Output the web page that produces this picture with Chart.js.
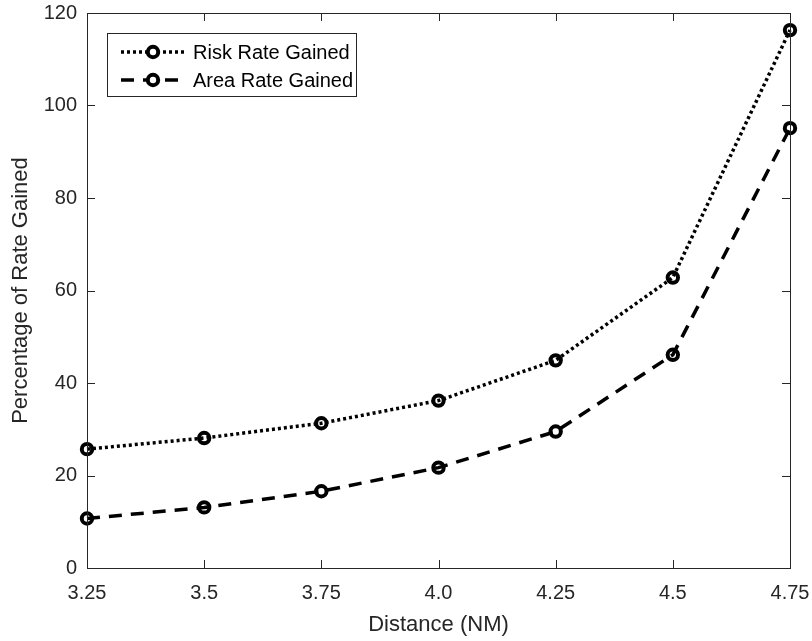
<!DOCTYPE html>
<html>
<head>
<meta charset="utf-8">
<script src="https://cdn.jsdelivr.net/npm/chart.js@4/dist/chart.umd.min.js"></script>
<style>
  html, body { margin: 0; padding: 0; background: #fff; }
  #wrap { width: 812px; height: 641px; }
</style>
</head>
<body>
<div id="wrap"><canvas id="chart" width="812" height="641"></canvas></div>
<script>
const distances = [3.25, 3.5, 3.75, 4.0, 4.25, 4.5, 4.75];
const xTickLabels = ["3.25", "3.5", "3.75", "4.0", "4.25", "4.5", "4.75"];
const riskRate = [25.7, 28.1, 31.3, 36.2, 44.9, 62.8, 116.3];
const areaRate = [10.7, 13.1, 16.6, 21.7, 29.5, 46.1, 95.1];
const seriesNames = ["Risk Rate Gained", "Area Rate Gained"];

const FONT = "'Liberation Sans', Arial, Helvetica, sans-serif";
const AXIS_COLOR = "#262626";

function toPoints(values) {
  return distances.map((d, i) => ({ x: d, y: values[i] }));
}

// MATLAB-style box with inward ticks on all four sides
const boxPlugin = {
  id: "box",
  afterDraw(chart) {
    const { ctx, chartArea: a, scales } = chart;
    ctx.save();
    ctx.strokeStyle = AXIS_COLOR;
    ctx.lineWidth = 1;
    ctx.strokeRect(a.left + 0.5, a.top + 0.5, a.right - a.left, a.bottom - a.top);
    const tl = 8;
    ctx.beginPath();
    distances.forEach((d) => {
      const x = Math.round(scales.x.getPixelForValue(d)) + 0.5;
      ctx.moveTo(x, a.bottom);
      ctx.lineTo(x, a.bottom - tl);
      ctx.moveTo(x, a.top);
      ctx.lineTo(x, a.top + tl);
    });
    scales.y.ticks.forEach((t) => {
      const y = Math.round(scales.y.getPixelForValue(t.value)) + 0.5;
      ctx.moveTo(a.left, y);
      ctx.lineTo(a.left + tl, y);
      ctx.moveTo(a.right, y);
      ctx.lineTo(a.right - tl, y);
    });
    ctx.stroke();
    ctx.restore();
  }
};

// legend drawn like MATLAB: line sample with marker in the middle
const legendPlugin = {
  id: "matlabLegend",
  afterDraw(chart) {
    const { ctx } = chart;
    const bx = 107, by = 33, bw = 249, bh = 63;
    ctx.save();
    ctx.fillStyle = "#fff";
    ctx.fillRect(bx, by, bw, bh);
    ctx.strokeStyle = AXIS_COLOR;
    ctx.lineWidth = 1;
    ctx.strokeRect(bx + 0.5, by + 0.5, bw, bh);
    chart.data.datasets.forEach((ds, i) => {
      const y = 52 + i * 28;
      ctx.strokeStyle = ds.borderColor;
      ctx.lineWidth = ds.borderWidth;
      ctx.setLineDash(ds.borderDash);
      ctx.beginPath();
      ctx.moveTo(121, y);
      ctx.lineTo(184, y);
      ctx.stroke();
      ctx.setLineDash([]);
      ctx.fillStyle = "#fff";
      ctx.beginPath();
      ctx.arc(153, y, ds.pointRadius, 0, Math.PI * 2);
      ctx.fill();
      ctx.lineWidth = ds.pointBorderWidth;
      ctx.stroke();
      ctx.fillStyle = "#000";
      ctx.font = "20px " + FONT;
      ctx.textBaseline = "middle";
      ctx.fillText(ds.label, 193, y + 1);
    });
    ctx.restore();
  }
};

new Chart(document.getElementById("chart"), {
  type: "line",
  data: {
    datasets: [
      {
        label: seriesNames[0],
        data: toPoints(riskRate),
        borderColor: "#000",
        borderWidth: 3.5,
        borderDash: [3, 3],
        pointRadius: 5.2,
        pointBorderWidth: 4,
        pointBackgroundColor: "rgba(0,0,0,0)",
        pointBorderColor: "#000",
        tension: 0,
        clip: false
      },
      {
        label: seriesNames[1],
        data: toPoints(areaRate),
        borderColor: "#000",
        borderWidth: 3.5,
        borderDash: [13, 9],
        pointRadius: 5.2,
        pointBorderWidth: 4,
        pointBackgroundColor: "rgba(0,0,0,0)",
        pointBorderColor: "#000",
        tension: 0,
        clip: false
      }
    ]
  },
  options: {
    responsive: false,
    animation: false,
    events: [],
    layout: { padding: { left: 0, right: 22, top: 13, bottom: 0 } },
    plugins: { legend: { display: false }, tooltip: { enabled: false } },
    scales: {
      x: {
        type: "linear",
        min: 3.25,
        max: 4.75,
        afterBuildTicks(scale) {
          scale.ticks = distances.map((v) => ({ value: v }));
        },
        afterFit(scale) {
          scale.height = 73;
          scale.paddingLeft = 0;
          scale.paddingRight = 0;
        },
        grid: { display: false, drawTicks: false },
        border: { display: false },
        ticks: {
          padding: 13,
          color: AXIS_COLOR,
          font: { family: FONT, size: 20 },
          maxRotation: 0,
          autoSkip: false,
          callback: (v) => {
            const i = distances.indexOf(v);
            return i >= 0 ? xTickLabels[i] : "";
          }
        },
        title: {
          display: true,
          text: "Distance (NM)",
          color: AXIS_COLOR,
          font: { family: FONT, size: 22 },
          padding: { top: 0, bottom: 3 }
        }
      },
      y: {
        min: 0,
        max: 120,
        afterFit(scale) {
          scale.width = 87;
          scale.paddingTop = 0;
          scale.paddingBottom = 0;
        },
        grid: { display: false, drawTicks: false },
        border: { display: false },
        ticks: {
          stepSize: 20,
          padding: 10,
          color: AXIS_COLOR,
          font: { family: FONT, size: 20 }
        },
        title: {
          display: true,
          text: "Percentage of Rate Gained",
          color: AXIS_COLOR,
          font: { family: FONT, size: 22 },
          padding: { top: 8, bottom: 0 }
        }
      }
    }
  },
  plugins: [boxPlugin, legendPlugin]
});
</script>
</body>
</html>
